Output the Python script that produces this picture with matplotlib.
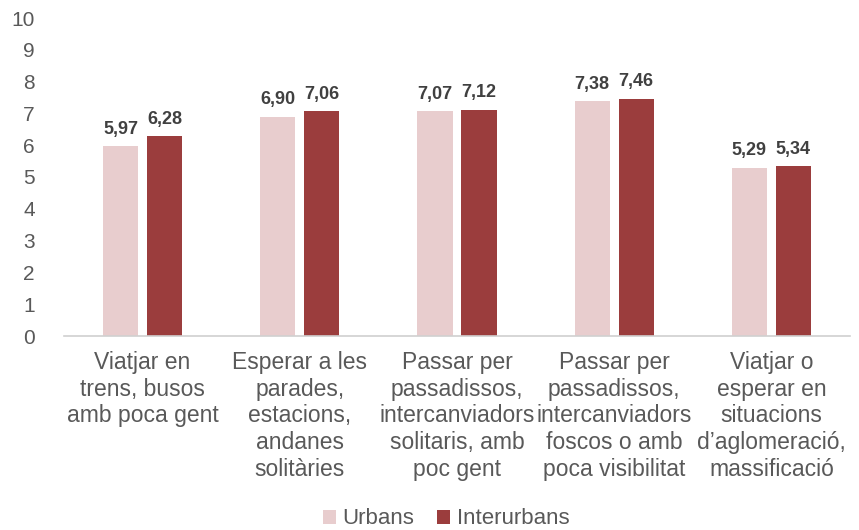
import matplotlib
matplotlib.use("Agg")
import matplotlib.pyplot as plt
import numpy as np

plt.rcParams['font.family'] = ['Liberation Sans', 'DejaVu Sans']

categories = [
    "Viatjar en\ntrens, busos\namb poca gent",
    "Esperar a les\nparades,\nestacions,\nandanes\nsolitàries",
    "Passar per\npassadissos,\nintercanviadors\nsolitaris, amb\npoc gent",
    "Passar per\npassadissos,\nintercanviadors\nfoscos o amb\npoca visibilitat",
    "Viatjar o\nesperar en\nsituacions\nd’aglomeració,\nmassificació",
]
urbans = [5.97, 6.90, 7.07, 7.38, 5.29]
interurbans = [6.28, 7.06, 7.12, 7.46, 5.34]
series_names = ["Urbans", "Interurbans"]
yticks = list(range(0, 11))

c_urb = "#E8CDCE"
c_int = "#9B3D3D"
txt = "#595959"

fig = plt.figure(figsize=(8.59, 5.30), dpi=100)
ax = fig.add_axes([64/859, 1-336/530, (850-64)/859, (336-18)/530])

x = np.arange(len(categories))
w = 0.223
off = 0.14
b1 = ax.bar(x - off, urbans, w, color=c_urb, label=series_names[0])
b2 = ax.bar(x + off, interurbans, w, color=c_int, label=series_names[1])

for bars, vals in ((b1, urbans), (b2, interurbans)):
    for r, v in zip(bars, vals):
        ax.annotate(f"{v:.2f}".replace(".", ","), (r.get_x() + r.get_width()/2, v),
                    xytext=(0, 6), textcoords="offset points", ha="center", va="bottom",
                    fontsize=13, fontweight="bold", color="#404040")

ax.set_xlim(-0.5, len(categories) - 0.5)
ax.set_ylim(0, 10)
ax.set_yticks(yticks)
ax.set_yticklabels([str(t) for t in yticks], fontsize=15, color=txt)
ax.set_xticks(x)
ax.set_xticklabels(categories, fontsize=16.5, color=txt, linespacing=1.2, va="top")
ax.tick_params(axis="both", length=0)
ax.tick_params(axis="x", pad=11)
ax.tick_params(axis="y", pad=21)
for s in ("top", "right", "left"):
    ax.spines[s].set_visible(False)
ax.spines["bottom"].set_color("#D0D0D0")
ax.spines["bottom"].set_linewidth(1.2)

fig.legend(handles=[b1, b2], labels=series_names, loc="center", bbox_to_anchor=(446/859, 1-519/530),
           ncol=2, frameon=False, fontsize=16, handlelength=0.6, handleheight=0.6,
           handletextpad=0.3, columnspacing=1.0, labelcolor=txt, borderpad=0)

fig.savefig("out.png", dpi=100)
